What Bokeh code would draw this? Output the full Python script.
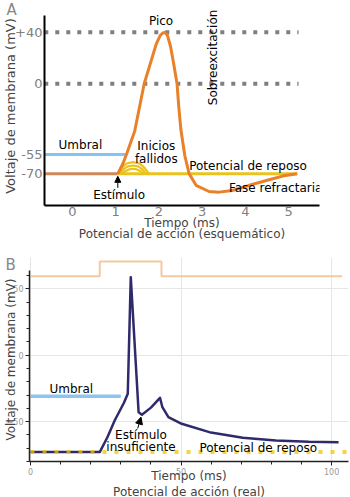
from bokeh.plotting import figure
from bokeh.models import Range1d, FixedTicker, SingleIntervalTicker, Label, Title, Arrow, NormalHead
from bokeh.embed import file_html
from bokeh.resources import INLINE

FONT = "DejaVu Sans"

# ---------------- Panel A (schematic) data ----------------
a_xticks = [0, 1, 2, 3, 4, 5]
a_yticks = [-70, -55, 0, 40]
a_ytick_labels = {-70: "-70", -55: "-55", 0: "0", 40: "+40"}

a_rest_t = [-0.65, 1.05]
a_rest_v = [-70, -70]
a_ap_t = [1.05, 1.17, 1.26, 1.44, 1.66, 1.94, 2.03, 2.09, 2.14, 2.20, 2.27, 2.34, 2.42, 2.46, 2.51, 2.60,
          2.70, 2.86, 3.16, 3.39, 3.70, 4.09, 4.55, 4.93, 5.20]
a_ap_v = [-70, -62, -54, -37, 0, 31, 37.5, 39.5, 40, 37.5, 29, 16, 0, -18, -36, -56,
          -70, -79, -83.8, -84.3, -83, -79, -74.7, -71.3, -70]
a_base_t = [1.05, 5.2]
a_base_v = [-70, -70]
a_thr_t = [-0.65, 1.26]
a_thr_v = [-55, -55]
a_ref_t = [-0.65, 5.23]
a_peak_v = [40, 40]
a_zero_v = [0, 0]
a_fail1_t = [1.06, 1.15, 1.25, 1.40, 1.55, 1.66, 1.77]
a_fail1_v = [-70, -65, -62, -61, -62, -65, -70]
a_fail2_t = [1.10, 1.18, 1.28, 1.40, 1.52, 1.62, 1.70]
a_fail2_v = [-70, -66.5, -64.3, -63.6, -64.3, -66.5, -70]
a_fail3_t = [1.15, 1.22, 1.31, 1.40, 1.49, 1.58, 1.64]
a_fail3_v = [-70, -68, -66.6, -66.1, -66.6, -68, -70]

# ---------------- Panel B (real) data ----------------
b_t = [0, 23, 25.5, 28, 31, 32.3, 33.3, 35.9, 37.0, 40.0, 43.0, 43.8, 45.8, 50.2, 59.4, 70.5, 81.5, 92.4, 102.3]
b_v = [-73, -73, -62, -49, -36, -29, 58.8, -43, -44.8, -39.5, -32.1, -39.2, -46.7, -51.7, -58, -62.2, -64.3,
       -65.3, -65.6]
b_stim_t = [0, 23, 23, 43.5, 43.5, 103.5]
b_stim_v = [59.5, 59.5, 70.5, 70.5, 59.5, 59.5]
b_rest_t = [0, 105.6]
b_rest_v = [-73, -73]
b_thr_t = [0, 30]
b_thr_v = [-31, -31]

# ---------------- Figure A ----------------
pA = figure(width=350, height=250, output_backend="svg", toolbar_location=None,
            x_range=Range1d(-0.645, 5.714), y_range=Range1d(-94.7, 60.1),
            min_border_left=43, min_border_right=31, min_border_top=6, min_border_bottom=45)
pA.add_layout(Title(text="A", align="left", offset=-38, standoff=-24, text_font=FONT,
                    text_font_size="15px", text_font_style="normal", text_color="#888888"), "above")
pA.outline_line_color = None
pA.grid.visible = False
for ax in (pA.xaxis[0], pA.yaxis[0]):
    ax.axis_line_width = 2
    ax.axis_line_color = "black"
    ax.major_tick_line_color = None
    ax.minor_tick_line_color = None
    ax.major_tick_out = 0
    ax.major_tick_in = 0
    ax.major_label_text_color = "#808080"
    ax.major_label_text_font = FONT
    ax.major_label_text_font_size = "13px"
    ax.axis_label_text_font = FONT
    ax.axis_label_text_font_style = "normal"
    ax.axis_label_text_font_size = "12px"
pA.xaxis.ticker = FixedTicker(ticks=a_xticks)
pA.yaxis.ticker = FixedTicker(ticks=a_yticks)
pA.yaxis.major_label_overrides = a_ytick_labels
pA.yaxis.bounds = (-94.7, 53.1)
pA.xaxis.axis_label = "Tiempo (ms)"
pA.yaxis.axis_label = "Voltaje de membrana (mV)"
pA.yaxis.axis_label_text_font_size = "13px"
pA.xaxis.major_label_standoff = 1
pA.xaxis.axis_label_standoff = -3
pA.yaxis.major_label_standoff = 2
pA.yaxis.axis_label_standoff = -6
pA.add_layout(Title(text="Potencial de acción (esquemático)", align="center", text_font=FONT,
                    text_font_size="12px", text_font_style="normal", standoff=-16), "below")

pA.line(a_ref_t, a_peak_v, line_color="#7f7f7f", line_width=4, line_dash="4 7")
pA.line(a_ref_t, a_zero_v, line_color="#7f7f7f", line_width=4, line_dash="4 7")
pA.line(a_thr_t, a_thr_v, line_color="#87c3f0", line_width=3)
pA.line(a_base_t, a_base_v, line_color="#ebc31e", line_width=3)
for ft, fv in ((a_fail1_t, a_fail1_v), (a_fail2_t, a_fail2_v), (a_fail3_t, a_fail3_v)):
    pA.line(ft, fv, line_color="#ebc31e", line_width=2.2)
pA.line(a_rest_t, a_rest_v, line_color="#cd875a", line_width=3)
pA.line(a_ap_t, a_ap_v, line_color="#e8812a", line_width=3, line_join="round")
pA.add_layout(Arrow(end=NormalHead(size=6, fill_color="black", line_color="black"),
                    x_start=1.05, y_start=-81, x_end=1.05, y_end=-72, line_color="black", line_width=1))

def lab(p, x, y, text, align="left", angle=0, size="12px", color="black"):
    p.add_layout(Label(x=x, y=y, text=text, text_align=align, text_baseline="middle", angle=angle,
                       text_font=FONT, text_font_size=size, text_color=color))

lab(pA, 2.05, 49.2, "Pico", "center")
lab(pA, 3.25, 20.5, "Sobreexcitación", "center", angle=1.5708)
lab(pA, -0.32, -48, "Umbral")
lab(pA, 1.94, -48.8, "Inicios", "center")
lab(pA, 1.94, -58.3, "fallidos", "center")
lab(pA, 1.08, -86.9, "Estímulo", "center")
lab(pA, 2.70, -64.3, "Potencial de reposo")
lab(pA, 3.62, -81.4, "Fase refractaria")

# ---------------- Figure B ----------------
pB = figure(width=350, height=247, output_backend="svg", toolbar_location=None,
            x_range=Range1d(-0.33, 105.6), y_range=Range1d(-80.1, 73.6),
            min_border_left=27, min_border_right=2, min_border_top=7, min_border_bottom=36)
pB.add_layout(Title(text="B", align="left", offset=-24, standoff=-32, text_font=FONT,
                    text_font_size="15px", text_font_style="normal", text_color="#888888"), "above")
pB.outline_line_color = None
pB.xgrid.grid_line_color = "#e6e6e6"
pB.ygrid.grid_line_color = "#e6e6e6"
pB.xaxis.ticker = SingleIntervalTicker(interval=50, num_minor_ticks=5)
pB.yaxis.ticker = SingleIntervalTicker(interval=50, num_minor_ticks=5)
pB.yaxis.bounds = (-80.1, 64)
for ax in (pB.xaxis[0], pB.yaxis[0]):
    ax.axis_line_width = 1.5
    ax.axis_line_color = "#222222"
    ax.major_tick_line_color = "#222222"
    ax.minor_tick_line_color = "#222222"
    ax.major_tick_out = 4
    ax.major_tick_in = 0
    ax.minor_tick_out = 3
    ax.minor_tick_in = 0
    ax.major_label_text_color = "#999999"
    ax.major_label_text_font = FONT
    ax.major_label_text_font_size = "8px"
    ax.major_label_standoff = 2
    ax.axis_label_text_font = FONT
    ax.axis_label_text_font_style = "normal"
    ax.axis_label_text_font_size = "12px"
pB.xaxis.axis_label = "Tiempo (ms)"
pB.yaxis.axis_label = "Voltaje de membrana (mV)"
pB.xaxis.axis_label_standoff = -9
pB.yaxis.axis_label_standoff = -14
pB.add_layout(Title(text="Potencial de acción (real)", align="center", text_font=FONT,
                    text_font_size="12px", text_font_style="normal", standoff=-6), "below")

pB.line(b_stim_t, b_stim_v, line_color="#f3c9a2", line_width=2)
pB.line(b_thr_t, b_thr_v, line_color="#8cc6f0", line_width=3.5)
pB.line(b_t, b_v, line_color="#2f2a6b", line_width=2.5, line_join="round")
pB.line(b_rest_t, b_rest_v, line_color="#f5c400", line_width=4, line_dash="4 8", line_alpha=0.75)
pB.add_layout(Arrow(end=NormalHead(size=7, fill_color="black", line_color="black"),
                    x_start=35.6, y_start=-55.2, x_end=36.7, y_end=-46.7, line_color="black", line_width=1))
lab(pB, 6.3, -25.1, "Umbral")
lab(pB, 36.7, -60.4, "Estímulo", "center")
lab(pB, 36.7, -69.3, "insuficiente", "center")
lab(pB, 56.1, -69.6, "Potencial de reposo")

open("out.html", "w").write(file_html([pA, pB], INLINE))
